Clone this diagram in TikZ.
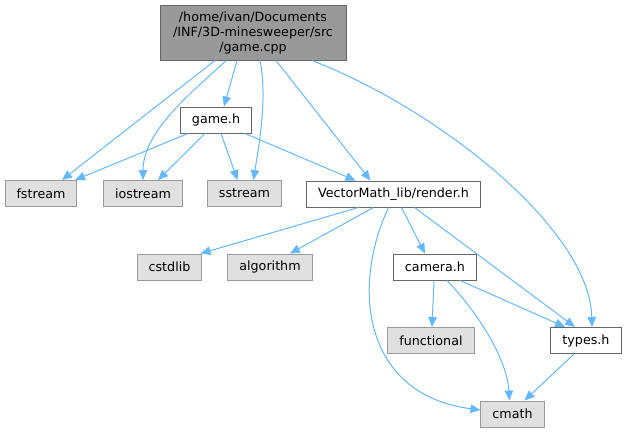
\documentclass[tikz,border=0pt]{standalone}
\usepackage{fontspec}
\setmainfont{DejaVu Sans}
\usetikzlibrary{arrows.meta}
\definecolor{edgeblue}{HTML}{63B8FF}
\definecolor{rootfill}{HTML}{999999}
\definecolor{sysfill}{HTML}{E0E0E0}
\definecolor{darkline}{HTML}{666666}
\definecolor{lightline}{HTML}{999999}
\tikzset{
  >={Triangle[length=10pt,width=8.5pt]},
  dep/.style={->, draw=edgeblue, line width=1pt},
  box/.style={line width=1pt, minimum height=26pt, inner xsep=11.5pt, inner ysep=0pt, font=\fontsize{12.7}{15}\selectfont},
  rootfile/.style={box, draw=darkline, fill=rootfill, minimum width=186pt, minimum height=55pt, align=center},
  hfile/.style={box, draw=darkline, fill=white},
  sysfile/.style={box, draw=lightline, fill=sysfill},
}
\begin{document}
\begin{tikzpicture}[x=1pt, y=-1pt]
  \useasboundingbox (0,0) rectangle (627,432);

  \node[rootfile] (game_cpp) at (253,32.5) {/home/ivan/Documents\\/INF/3D-minesweeper/src\\/game.cpp};
  \node[hfile] (game_h) at (216,120) {game.h};

  \node[sysfile] (fstream) at (41,193.5) {fstream};
  \node[sysfile] (iostream) at (143,193.5) {iostream};
  \node[sysfile] (sstream) at (244.5,193.5) {sstream};
  \node[hfile] (render_h) at (393.5,194) {VectorMath\_lib/render.h};

  \node[sysfile] (cstdlib) at (169.5,267) {cstdlib};
  \node[sysfile] (algorithm) at (270,267) {algorithm};
  \node[hfile] (camera_h) at (435,267) {camera.h};

  \node[sysfile] (functional) at (431,340.5) {functional};
  \node[hfile] (types_h) at (586,340.5) {types.h};
  \node[sysfile] (cmath) at (512.5,414) {cmath};

  % game.cpp
  \draw[dep] ([xshift=-38pt]game_cpp.south) -- ([xshift=21pt]fstream.north);
  \draw[dep] ([xshift=-27pt]game_cpp.south) .. controls (195,90) and (143,130) .. (iostream.north);
  \draw[dep] ([xshift=-16pt]game_cpp.south) -- ([xshift=8pt]game_h.north);
  \draw[dep] ([xshift=7pt]game_cpp.south) .. controls (268,100) and (258,150) .. ([xshift=9pt]sstream.north);
  \draw[dep] ([xshift=23pt]game_cpp.south) -- ([xshift=-23pt]render_h.north);
  \draw[dep] ([xshift=59pt]game_cpp.south) .. controls (440,110) and (590,230) .. ([xshift=6pt]types_h.north);

  % game.h
  \draw[dep] ([xshift=-28pt]game_h.south) -- ([xshift=34pt]fstream.north);
  \draw[dep] ([xshift=-11pt]game_h.south) -- ([xshift=15pt]iostream.north);
  \draw[dep] ([xshift=5pt]game_h.south) -- ([xshift=-7pt]sstream.north);
  \draw[dep] ([xshift=29pt]game_h.south) -- ([xshift=-38pt]render_h.north);

  % render.h
  \draw[dep] ([xshift=-35pt]render_h.south) -- ([xshift=31pt]cstdlib.north);
  \draw[dep] ([xshift=-20pt]render_h.south) -- ([xshift=20pt]algorithm.north);
  \draw[dep] ([xshift=8pt]render_h.south) -- ([xshift=-10pt]camera_h.north);
  \draw[dep] ([xshift=21pt]render_h.south) -- ([xshift=-11pt]types_h.north);
  \draw[dep] ([xshift=-5pt]render_h.south) .. controls (350,290) and (365,395) .. ([yshift=4pt]cmath.west);

  % camera.h
  \draw[dep] ([xshift=-1pt]camera_h.south) -- ([xshift=1pt]functional.north);
  \draw[dep] ([xshift=25pt]camera_h.south) -- ([xshift=-21pt]types_h.north);
  \draw[dep] ([xshift=12pt]camera_h.south) .. controls (480,315) and (507,360) .. ([xshift=-3pt]cmath.north);

  % types.h
  \draw[dep] ([xshift=-12pt]types_h.south) -- ([xshift=12pt]cmath.north);
\end{tikzpicture}
\end{document}
